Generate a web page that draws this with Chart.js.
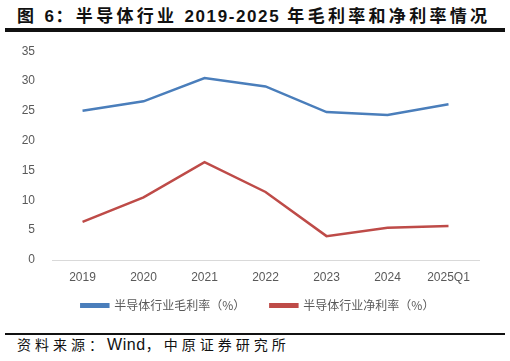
<!DOCTYPE html>
<html><head><meta charset="utf-8">
<script src="https://cdn.jsdelivr.net/npm/chart.js@4/dist/chart.umd.min.js"></script>
<style>
html,body{margin:0;padding:0;background:#fff;width:510px;height:361px;overflow:hidden;font-family:"Noto Sans CJK SC","Liberation Sans",sans-serif;}
#title{position:absolute;left:17px;top:3px;font-size:17px;font-weight:bold;color:#111;white-space:nowrap;letter-spacing:3.3px;line-height:24px;}
#title .num{font-family:"Liberation Sans",Arial,sans-serif;font-weight:bold;font-size:17px;letter-spacing:1.6px;}
#l1{position:absolute;left:5px;top:28px;width:500px;height:4px;background:#111;}
#l2{position:absolute;left:5px;top:333px;width:500px;height:2px;background:#111;}
#src{position:absolute;left:17px;top:334px;font-size:14px;color:#111;white-space:nowrap;letter-spacing:4px;line-height:20px;}
#src .w{font-family:"Liberation Sans",Arial,sans-serif;font-size:16px;letter-spacing:0.6px;}
#wrap{position:absolute;left:0;top:27px;width:510px;height:315px;}
#c{display:block;}
</style></head><body>
<div id="title">图 <span class="num">6</span>：半导体行业 <span class="num">2019-2025</span> 年毛利率和净利率情况</div>
<div id="l1"></div>
<div id="l2"></div>
<div id="src">资料来源：<span class="w">Wind</span>，中原证券研究所</div>
<div id="wrap"><canvas id="c" width="510" height="315"></canvas></div>
<script>
const categories = ["2019","2020","2021","2022","2023","2024","2025Q1"];
const grossMargin = [25.0, 26.6, 30.5, 29.1, 24.8, 24.3, 26.1];
const netMargin = [6.4, 10.5, 16.4, 11.4, 4.0, 5.4, 5.7];
const yTicks = [0,5,10,15,20,25,30,35];

const legendNudge = {
  id: 'legendNudge',
  afterLayout(chart) {
    const lg = chart.legend;
    if (lg) { lg.top -= 20; lg.bottom -= 20; lg.left += 16; lg.right += 16; }
  }
};

new Chart(document.getElementById('c'), {
  type: 'line',
  data: {
    labels: categories,
    datasets: [
      {label: '半导体行业毛利率（%）', data: grossMargin, borderColor: '#4a7ebb', backgroundColor: '#4a7ebb', borderWidth: 2.5, pointRadius: 0, tension: 0},
      {label: '半导体行业净利率（%）', data: netMargin, borderColor: '#be4b48', backgroundColor: '#be4b48', borderWidth: 2.5, pointRadius: 0, tension: 0}
    ]
  },
  plugins: [legendNudge],
  options: {
    responsive: false,
    animation: false,
    layout: {padding: {left: 4.7, right: 31, top: 0, bottom: 0.6}},
    plugins: {
      legend: {
        position: 'bottom',
        labels: {
          font: {family: '"Noto Sans CJK SC", sans-serif', size: 12},
          color: '#595959',
          boxWidth: 27, boxHeight: 2.5,
          padding: 25
        }
      },
      tooltip: {enabled: false}
    },
    scales: {
      x: {
        offset: true,
        grid: {display: false, drawTicks: false},
        border: {color: '#d9d9d9', width: 1},
        ticks: {color: '#595959', font: {family: '"Liberation Sans", Arial, sans-serif', size: 12}, padding: 10}
      },
      y: {
        min: 0, max: 35,
        afterBuildTicks: (ax) => { ax.ticks = yTicks.map(v => ({value: v})); },
        grid: {display: false, drawTicks: false},
        border: {display: false},
        ticks: {color: '#595959', font: {family: '"Liberation Sans", Arial, sans-serif', size: 12}, padding: 17}
      }
    }
  }
});
</script>
</body></html>
